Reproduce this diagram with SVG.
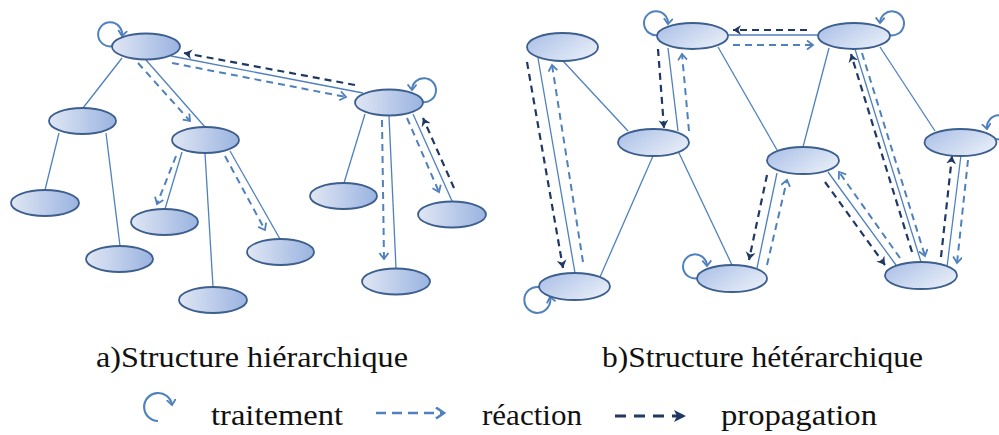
<svg xmlns="http://www.w3.org/2000/svg" width="999" height="435" viewBox="0 0 999 435">
<style>
.nl{fill:url(#gl);stroke:#3d5f8e;stroke-width:1.8}
.nr{fill:url(#gr);stroke:#3d5f8e;stroke-width:1.8}
.s{stroke:#4f81bd;stroke-width:1.3;fill:none}
.r{stroke:#4f81bd;stroke-width:2;stroke-dasharray:7 5;fill:none;marker-end:url(#mr)}
.p{stroke:#1f3864;stroke-width:2.2;stroke-dasharray:7 5;fill:none;marker-end:url(#mp)}
.loop{stroke:#4f81bd;stroke-width:2;fill:none;marker-end:url(#ml)}
.t{font-family:"Liberation Serif","Times New Roman",serif;fill:#111}
</style>
<defs>
<linearGradient id="gl" x1="0" y1="0" x2="1" y2="0">
<stop offset="0" stop-color="#e0e7f4"/><stop offset="1" stop-color="#9ab3e0"/>
</linearGradient>
<linearGradient id="gr" x1="0" y1="0" x2="1" y2="0.6">
<stop offset="0" stop-color="#a8bee6"/><stop offset="1" stop-color="#e4ebf7"/>
</linearGradient>
<marker id="mr" markerUnits="userSpaceOnUse" markerWidth="12" markerHeight="12" refX="7" refY="5" orient="auto">
<path d="M1,0.5 L7,5 L1,9.5" fill="none" stroke="#4f81bd" stroke-width="1.8"/>
</marker>
<marker id="mp" markerUnits="userSpaceOnUse" markerWidth="12" markerHeight="12" refX="8" refY="5" orient="auto">
<path d="M0,0 L8,5 L0,10 L2.5,5 z" fill="#1f3864"/>
</marker>
<marker id="ml" markerUnits="userSpaceOnUse" markerWidth="12" markerHeight="12" refX="6" refY="5" orient="auto">
<path d="M0.5,0.5 L6,5 L0.5,9.5" fill="none" stroke="#4f81bd" stroke-width="1.8"/>
</marker>
<marker id="mr2" markerUnits="userSpaceOnUse" markerWidth="14" markerHeight="14" refX="9" refY="6" orient="auto">
<path d="M1,0.5 L9,6 L1,11.5" fill="none" stroke="#4f81bd" stroke-width="2.6"/>
</marker>
<marker id="mp2" markerUnits="userSpaceOnUse" markerWidth="16" markerHeight="16" refX="12" refY="6" orient="auto">
<path d="M0,0 L12,6 L0,12 L3,6 z" fill="#1f3864"/>
</marker>
</defs>

<g id="connectors">
<!-- left: solid -->
<path class="s" d="M122 58 L83 108"/>
<path class="s" d="M146 60 L205 127"/>
<path class="s" d="M171 56 L363 93"/>
<path class="s" d="M59 133 L45 190"/>
<path class="s" d="M106 133 L120 246"/>
<path class="s" d="M182 152 L165 209"/>
<path class="s" d="M205 153 L213 287"/>
<path class="s" d="M230 151 L280 239"/>
<path class="s" d="M365 114 L344 183"/>
<path class="s" d="M389 116 L396 268"/>
<path class="s" d="M413 114 L452 201"/>
<!-- left: reaction -->
<path class="r" d="M138 63 L190 121"/>
<path class="r" d="M172 63 L346 97"/>
<path class="r" d="M176 156 L157 204"/>
<path class="r" d="M225 156 L265 230"/>
<path class="r" d="M382 120 L384 259"/>
<path class="r" d="M407 118 L439 192"/>
<!-- left: propagation -->
<path class="p" d="M355 85 L184 53"/>
<path class="p" d="M454 188 L423 118"/>
<!-- left loops -->
<path class="loop" d="M113 46 A12 12 0 1 1 122 36"/>
<path class="loop" d="M422 102 A12 12 0 1 0 412 90"/>

<!-- right: solid -->
<path class="s" d="M563 61 L628 131"/>
<path class="s" d="M538 58 L575 273"/>
<path class="s" d="M668 48 L678 131"/>
<path class="s" d="M653 156 L600 277"/>
<path class="s" d="M679 153 L732 265"/>
<path class="s" d="M718 47 L777 150"/>
<path class="s" d="M728 35 L818 35"/>
<path class="s" d="M829 48 L803 147"/>
<path class="s" d="M880 47 L935 131"/>
<path class="s" d="M855 49 L921 262"/>
<path class="s" d="M777 173 L757 268"/>
<path class="s" d="M828 172 L896 265"/>
<path class="s" d="M961 155 L947 267"/>
<!-- right: reaction -->
<path class="r" d="M583 262 L552 65"/>
<path class="r" d="M689 131 L682 54"/>
<path class="r" d="M733 45 L813 45"/>
<path class="r" d="M862 53 L925 256"/>
<path class="r" d="M968 160 L957 263"/>
<path class="r" d="M767 265 L787 180"/>
<path class="r" d="M900 258 L839 172"/>
<!-- right: propagation -->
<path class="p" d="M527 62 L563 268"/>
<path class="p" d="M658 49 L664 128"/>
<path class="p" d="M807 30 L733 30"/>
<path class="p" d="M912 252 L851 54"/>
<path class="p" d="M941 257 L952 156"/>
<path class="p" d="M767 175 L749 260"/>
<path class="p" d="M825 182 L885 265"/>
<!-- right loops -->
<path class="loop" d="M658 35 A12 12 0 1 1 668 24"/>
<path class="loop" d="M889 35 A12 12 0 1 0 880 23"/>
<path class="loop" d="M996 139 A12 12 0 1 0 987 129"/>
<path class="loop" d="M539 287 A13 13 0 1 0 550 297"/>
<path class="loop" d="M698 278 A12 12 0 1 1 707 266"/>
</g>

<g id="A"><ellipse class="nl" cx="146" cy="46.5" rx="34" ry="13"/></g>
<g id="B"><ellipse class="nl" cx="82.5" cy="121" rx="33.5" ry="13"/></g>
<g id="C"><ellipse class="nl" cx="205.5" cy="140" rx="33.5" ry="13"/></g>
<g id="D"><ellipse class="nl" cx="389" cy="102.5" rx="34" ry="13"/></g>
<g id="E"><ellipse class="nl" cx="45" cy="203" rx="34" ry="13"/></g>
<g id="F"><ellipse class="nl" cx="119.5" cy="259" rx="33.5" ry="13"/></g>
<g id="G"><ellipse class="nl" cx="164.5" cy="222" rx="33.5" ry="13"/></g>
<g id="H"><ellipse class="nl" cx="213" cy="300" rx="34" ry="13"/></g>
<g id="I"><ellipse class="nl" cx="280.5" cy="252" rx="33.5" ry="13"/></g>
<g id="J"><ellipse class="nl" cx="343.5" cy="196" rx="33.5" ry="13"/></g>
<g id="K"><ellipse class="nl" cx="396" cy="281.5" rx="34" ry="13"/></g>
<g id="L"><ellipse class="nl" cx="452" cy="214.5" rx="34" ry="13"/></g>

<g id="P1"><ellipse class="nr" cx="562.5" cy="47" rx="35.5" ry="14"/></g>
<g id="P2"><ellipse class="nr" cx="692.5" cy="36" rx="35.5" ry="13"/></g>
<g id="P3"><ellipse class="nr" cx="653.5" cy="142.5" rx="35.5" ry="13.5"/></g>
<g id="P4"><ellipse class="nr" cx="854" cy="36" rx="36" ry="13"/></g>
<g id="P5"><ellipse class="nr" cx="960.5" cy="142.5" rx="36" ry="13.5"/></g>
<g id="P6"><ellipse class="nr" cx="803" cy="160.5" rx="36" ry="13.5"/></g>
<g id="P7"><ellipse class="nr" cx="574.5" cy="286.5" rx="35.5" ry="13.5"/></g>
<g id="P8"><ellipse class="nr" cx="732" cy="278.5" rx="35" ry="13.5"/></g>
<g id="P9"><ellipse class="nr" cx="921" cy="275.5" rx="36" ry="13.5"/></g>

<g id="titles">
<text class="t" x="96" y="367" font-size="30" textLength="312" lengthAdjust="spacingAndGlyphs">a)Structure hiérarchique</text>
<text class="t" x="602" y="367" font-size="30" textLength="321" lengthAdjust="spacingAndGlyphs">b)Structure hétérarchique</text>
</g>

<g id="legend">
<path d="M158 421 A14 14 0 1 1 172 405" fill="none" stroke="#4f81bd" stroke-width="2.2" marker-end="url(#ml)"/>
<text class="t" x="211" y="425" font-size="29" textLength="132" lengthAdjust="spacingAndGlyphs">traitement</text>
<path d="M376 413 L444 413" fill="none" stroke="#4f81bd" stroke-width="2.6" stroke-dasharray="10 6" marker-end="url(#mr2)"/>
<text class="t" x="482" y="425" font-size="29" textLength="100" lengthAdjust="spacingAndGlyphs">réaction</text>
<path d="M615 416 L686 416" fill="none" stroke="#1f3864" stroke-width="3" stroke-dasharray="11 8" marker-end="url(#mp2)"/>
<text class="t" x="721" y="425" font-size="29" textLength="156" lengthAdjust="spacingAndGlyphs">propagation</text>
</g>
</svg>
